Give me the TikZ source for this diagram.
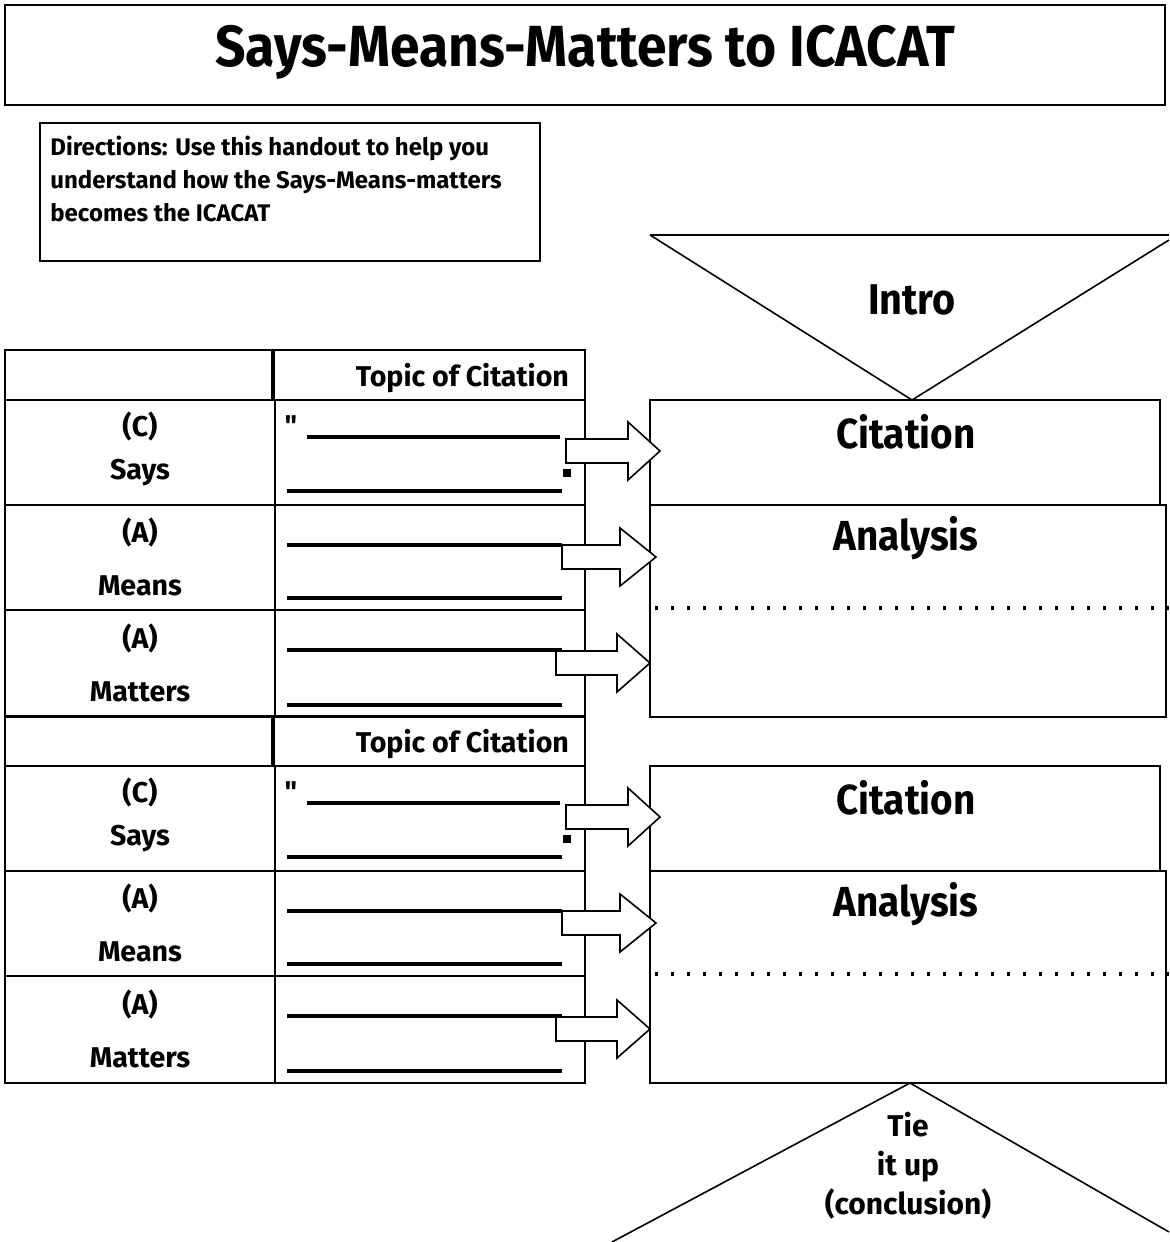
\documentclass[tikz,border=0pt]{standalone}
\usepackage{fontspec}
\setmainfont{Fira Sans}
\newfontfamily\narrowfont{Fira Sans}[FakeStretch=0.92]
\usetikzlibrary{positioning}
\tikzset{
  box/.style={draw,line width=1pt},
  lbl/.style={font=\fontsize{14.3}{16}\selectfont\bfseries},
  big/.style={font=\narrowfont\fontsize{21}{24}\selectfont\bfseries},
  blank/.style={line width=1.6pt},
  dotline/.style={line width=1.6pt,dash pattern=on 1.6pt off 6.4pt},
  barrow/.style={draw,line width=0.8pt,fill=white,line join=miter}
}
% block arrow: left x, centre y, head base x, tip x
\newcommand\blockarrow[4]{%
  \draw[barrow] (#1,#2-12) -- (#3,#2-12) -- (#3,#2-29) -- (#4,#2)
    -- (#3,#2+29) -- (#3,#2+12) -- (#1,#2+12) -- cycle;}
\begin{document}
\begin{tikzpicture}[x=0.5pt,y=-0.5pt]
\useasboundingbox (0,0) rectangle (1169,1242);
% title
\draw[box] (5,5) rectangle (1165,105);
\node[font=\narrowfont\fontsize{29}{33}\selectfont\bfseries] (title) at (585,52) {Says-Means-Matters to ICACAT};
% directions
\draw[box] (40,123) rectangle (540,261);
\node[anchor=north west,align=left,font=\fontsize{12}{16.5}\selectfont\bfseries,inner sep=0pt] (dir) at (50,136)
  {Directions: Use this handout to help you\\understand how the Says-Means-matters\\becomes the ICACAT};
% intro
\draw[box] (650,235) -- (1169,235);
\draw[line width=0.8pt] (650,235) -- (912,400) -- (1169,240);
\node[big,font=\narrowfont\fontsize{21.5}{24}\selectfont\bfseries] (intro) at (912,300) {Intro};
% tables
\foreach \t in {0,366}{
  \draw[box] (5,350+\t) rectangle (585,717+\t);
  \draw[line width=2pt] (273,350+\t) -- (273,400+\t);
  \draw[box] (275,400+\t) -- (275,717+\t);
  \foreach \r in {400,505,610} \draw[box] (5,\r+\t) -- (585,\r+\t);
  \node[lbl,anchor=east] at (576,378+\t) {Topic of Citation};
  \node[lbl] at (140,426+\t) {(C)};
  \node[lbl] at (140,473+\t) {Says};
  \node[lbl] at (140,532+\t) {(A)};
  \node[lbl] at (140,586+\t) {Means};
  \node[lbl] at (140,638+\t) {(A)};
  \node[lbl] at (140,692+\t) {Matters};
  \node[lbl] at (291,426+\t) {\textquotedbl};
  \draw[blank] (307,437+\t) -- (560,437+\t);
  \fill (563,469+\t) rectangle (571,477+\t);
  \draw[blank] (287,491+\t) -- (562,491+\t);
  \foreach \l in {545,598,650,705} \draw[blank] (287,\l+\t) -- (562,\l+\t);
  % boxes on the right
  \draw[box] (650,400+\t) rectangle (1160,505+\t);
  \draw[box] (650,505+\t) rectangle (1166,717+\t);
  \draw[dotline] (655,608+\t) -- (1169,608+\t);
  \node[big] at (906,432+\t) {Citation};
  \node[big] at (906,538+\t) {Analysis};
  \blockarrow{566}{451+\t}{628}{660}
  \blockarrow{562}{557+\t}{620}{656}
  \blockarrow{556}{663+\t}{617}{650}
}
% conclusion
\draw[line width=0.8pt] (612,1242) -- (910,1083) -- (1169,1232);
\node[align=center,font=\fontsize{15}{19.5}\selectfont\bfseries] (tie) at (908,1166) {Tie\\it up\\(conclusion)};
\end{tikzpicture}
\end{document}
